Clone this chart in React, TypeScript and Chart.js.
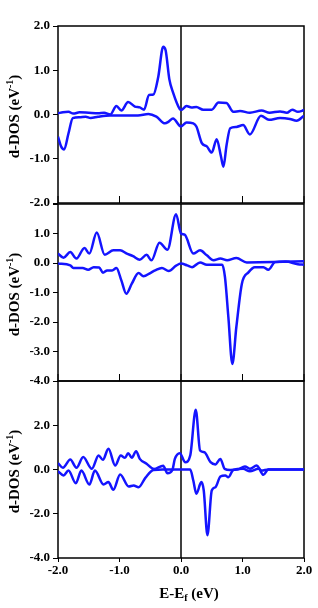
import React, { useEffect, useRef } from 'react';
import { Chart, registerables } from 'chart.js';
Chart.register(...registerables);

const xTickValues = [-2, -1, 0, 1, 2];

// Panel 1
const p1UpE = [-2.0, -1.92, -1.83, -1.75, -1.65, -1.5, -1.35, -1.25, -1.15, -1.05, -0.97, -0.86, -0.75, -0.67, -0.6, -0.52, -0.45, -0.37, -0.29, -0.25, -0.19, -0.13, -0.02, 0.0, 0.09, 0.17, 0.25, 0.36, 0.5, 0.61, 0.74, 0.85, 0.96, 1.12, 1.31, 1.44, 1.61, 1.72, 1.81, 1.9, 2.0];
const p1UpV = [0.03, 0.05, 0.06, 0.02, 0.05, 0.04, 0.03, 0.04, 0.0, 0.19, 0.09, 0.28, 0.18, 0.16, 0.11, 0.44, 0.45, 0.85, 1.53, 1.45, 0.8, 0.5, 0.12, 0.1, 0.19, 0.16, 0.17, 0.11, 0.11, 0.27, 0.26, 0.06, 0.08, 0.04, 0.09, 0.04, 0.07, 0.04, 0.11, 0.06, 0.1];
const p1DnE = [-2.0, -1.95, -1.9, -1.83, -1.76, -1.65, -1.55, -1.47, -1.35, -1.15, -0.9, -0.7, -0.53, -0.4, -0.26, -0.2, -0.13, 0.0, 0.09, 0.2, 0.25, 0.34, 0.42, 0.5, 0.58, 0.65, 0.69, 0.74, 0.8, 0.9, 1.01, 1.12, 1.3, 1.43, 1.61, 1.77, 1.88, 2.0];
const p1DnV = [-0.5, -0.72, -0.79, -0.43, -0.08, -0.06, -0.05, -0.08, -0.05, -0.02, -0.02, -0.02, 0.01, -0.05, -0.2, -0.16, -0.09, -0.27, -0.18, -0.2, -0.27, -0.65, -0.72, -0.86, -0.56, -0.95, -1.18, -0.7, -0.31, -0.28, -0.24, -0.45, -0.03, -0.12, -0.08, -0.1, -0.14, -0.03];

// Panel 2
const p2UpE = [-2.0, -1.91, -1.8, -1.7, -1.57, -1.49, -1.37, -1.24, -1.1, -0.99, -0.88, -0.78, -0.67, -0.56, -0.48, -0.35, -0.22, -0.08, 0.0, 0.06, 0.2, 0.31, 0.42, 0.53, 0.64, 0.75, 0.9, 1.07, 1.5, 2.0];
const p2UpV = [0.32, 0.18, 0.37, 0.15, 0.51, 0.32, 1.03, 0.28, 0.43, 0.43, 0.32, 0.23, 0.11, 0.28, 0.09, 0.69, 0.45, 1.65, 1.0, 0.96, 0.32, 0.43, 0.26, 0.09, 0.15, 0.09, 0.17, 0.02, 0.03, 0.06];
const p2DnE = [-2.0, -1.8, -1.75, -1.6, -1.51, -1.42, -1.33, -1.27, -1.2, -1.12, -1.05, -0.97, -0.89, -0.8, -0.69, -0.61, -0.5, -0.42, -0.31, -0.2, -0.08, 0.0, 0.1, 0.18, 0.31, 0.42, 0.67, 0.715, 0.77, 0.835, 0.9, 0.99, 1.1, 1.2, 1.34, 1.42, 1.53, 1.7, 1.9, 2.0];
const p2DnV = [-0.02, -0.08, -0.17, -0.17, -0.23, -0.14, -0.15, -0.33, -0.25, -0.25, -0.17, -0.59, -1.04, -0.7, -0.34, -0.45, -0.34, -0.25, -0.17, -0.27, -0.09, -0.02, -0.08, -0.14, 0.02, -0.06, -0.06, -0.48, -1.83, -3.42, -2.17, -0.7, -0.31, -0.14, -0.14, -0.23, 0.03, 0.05, -0.04, -0.06];

// Panel 3
const p3UpE = [-2.0, -1.92, -1.8, -1.7, -1.59, -1.45, -1.34, -1.27, -1.18, -1.07, -0.98, -0.91, -0.86, -0.8, -0.73, -0.67, -0.56, -0.44, -0.29, -0.22, -0.14, -0.1, -0.02, 0.07, 0.15, 0.24, 0.31, 0.38, 0.48, 0.56, 0.64, 0.71, 0.8, 0.92, 1.04, 1.12, 1.23, 1.31, 1.42, 2.0];
const p3UpV = [0.29, 0.08, 0.45, 0.08, 0.56, 0.03, 0.63, 0.44, 0.94, 0.18, 0.63, 0.53, 0.74, 0.53, 0.83, 0.48, 0.26, 0.02, 0.17, -0.17, -0.02, 0.48, 0.74, 0.33, 0.63, 2.7, 0.86, 0.78, 0.33, 0.23, 0.48, 0.03, -0.02, 0.0, 0.14, 0.03, 0.18, -0.05, 0.0, 0.0];
const p3DnE = [-2.0, -1.91, -1.83, -1.71, -1.62, -1.49, -1.4, -1.26, -1.18, -1.1, -0.99, -0.85, -0.77, -0.69, -0.58, -0.45, -0.3, 0.0, 0.15, 0.2, 0.25, 0.33, 0.37, 0.43, 0.5, 0.56, 0.64, 0.72, 0.77, 0.85, 1.01, 1.12, 1.26, 1.34, 1.42, 2.0];
const p3DnV = [-0.08, -0.27, -0.05, -0.62, -0.05, -0.68, -0.05, -0.68, -0.57, -0.92, -0.23, -0.77, -0.72, -0.8, -0.38, -0.02, 0.0, 0.0, 0.0, -0.5, -1.1, -0.57, -0.95, -2.97, -0.95, -0.8, -0.32, -0.27, -0.35, -0.02, 0.03, -0.08, 0.03, -0.24, 0.0, 0.0];

const FONT = '"Liberation Serif", "Times New Roman", serif';
const BLUE = '#1414ff';

type PanelProps = {
  upE: number[]; upV: number[]; dnE: number[]; dnV: number[];
  yMin: number; yMax: number; yStep: number; hideTop: boolean;
  top: number; height: number; padTop: number; padBottom: number;
  bottom: boolean;
};

function drawParts(ctx: CanvasRenderingContext2D, parts: [string, number, number][], cx: number) {
  let total = 0;
  for (const [t, size] of parts) {
    ctx.font = `bold ${size}px ${FONT}`;
    total += ctx.measureText(t).width;
  }
  let x = cx - total / 2;
  for (const [t, size, dy] of parts) {
    ctx.font = `bold ${size}px ${FONT}`;
    ctx.fillText(t, x, dy);
    x += ctx.measureText(t).width;
  }
}

function Panel(p: PanelProps) {
  const ref = useRef<HTMLCanvasElement>(null);
  useEffect(() => {
    const canvas = ref.current!;
    const framePlugin = {
      id: 'frame',
      beforeDatasetsDraw(chart: any) {
        const { ctx, chartArea: a, scales } = chart;
        const xs = scales.x;
        ctx.save();
        ctx.strokeStyle = '#000';
        ctx.lineWidth = 1.5;
        ctx.strokeRect(a.left, a.top, a.right - a.left, a.bottom - a.top);
        const x0 = xs.getPixelForValue(0);
        ctx.beginPath();
        ctx.moveTo(x0, a.top);
        ctx.lineTo(x0, a.bottom);
        ctx.stroke();
        if (!p.bottom) {
          ctx.lineWidth = 1;
          ctx.beginPath();
          for (const v of xTickValues) {
            const px = xs.getPixelForValue(v);
            ctx.moveTo(px, a.bottom);
            ctx.lineTo(px, a.bottom - 7);
          }
          ctx.stroke();
        }
        ctx.restore();
      },
      afterDraw(chart: any) {
        const { ctx, chartArea: a } = chart;
        ctx.save();
        ctx.fillStyle = '#000';
        ctx.textBaseline = 'middle';
        ctx.translate(15, (a.top + a.bottom) / 2 + 2);
        ctx.rotate(-Math.PI / 2);
        drawParts(ctx, [['d-DOS (eV', 15, 0], ['-1', 10, -5], [')', 15, 0]], 0);
        ctx.restore();
        if (p.bottom) {
          ctx.save();
          ctx.fillStyle = '#000';
          ctx.textBaseline = 'middle';
          ctx.translate(0, a.bottom + 36);
          drawParts(ctx, [['E-E', 15, 0], ['f', 10, 4], [' (eV)', 15, 0]], (a.left + a.right) / 2 + 8);
          ctx.restore();
        }
      },
    };
    const chart = new Chart(canvas, {
      type: 'line',
      data: {
        datasets: [
          { data: p.upE.map((e, i) => ({ x: e, y: p.upV[i] })), borderColor: BLUE, borderWidth: 2.5, pointRadius: 0, cubicInterpolationMode: 'monotone', fill: false },
          { data: p.dnE.map((e, i) => ({ x: e, y: p.dnV[i] })), borderColor: BLUE, borderWidth: 2.5, pointRadius: 0, cubicInterpolationMode: 'monotone', fill: false },
        ],
      },
      options: {
        responsive: false,
        animation: false,
        events: [],
        layout: { padding: { top: p.padTop, bottom: p.padBottom, left: 0, right: 14 } },
        plugins: { legend: { display: false }, tooltip: { enabled: false } },
        scales: {
          x: {
            type: 'linear',
            min: -2,
            max: 2,
            display: p.bottom,
            grid: { drawOnChartArea: false, drawTicks: true, tickLength: 4, color: '#000', lineWidth: 1 },
            border: { display: false },
            ticks: {
              stepSize: 1,
              padding: 1,
              color: '#000',
              font: { family: FONT, size: 13, weight: 'bold' },
              callback: (v: any) => Number(v).toFixed(1),
              maxRotation: 0,
            },
            afterFit: (s: any) => { s.height = p.bottom ? 50 : 0; },
          },
          y: {
            type: 'linear',
            min: p.yMin,
            max: p.yMax,
            grid: { drawOnChartArea: false, drawTicks: true, tickLength: 5, color: '#000', lineWidth: 1 },
            border: { display: false },
            ticks: {
              stepSize: p.yStep,
              padding: 3,
              color: '#000',
              font: { family: FONT, size: 13, weight: 'bold' },
              callback: (v: any) => (p.hideTop && Number(v) === p.yMax ? '' : Number(v).toFixed(1)),
            },
            afterFit: (s: any) => { s.width = 58; },
          },
        },
      } as any,
      plugins: [framePlugin],
    });
    return () => chart.destroy();
  }, []);
  return (
    <canvas
      ref={ref}
      width={318}
      height={p.height}
      style={{ position: 'absolute', left: 0, top: p.top, width: 318, height: p.height }}
    />
  );
}

export default function App() {
  return (
    <div style={{ position: 'absolute', left: 0, top: 0, width: 318, height: 608, background: '#fff', overflow: 'hidden' }}>
      <Panel upE={p1UpE} upV={p1UpV} dnE={p1DnE} dnV={p1DnV} yMin={-2} yMax={2} yStep={1} hideTop={false}
        top={0} height={215} padTop={26} padBottom={12} bottom={false} />
      <Panel upE={p2UpE} upV={p2UpV} dnE={p2DnE} dnV={p2DnV} yMin={-4} yMax={2} yStep={1} hideTop={true}
        top={192} height={200} padTop={12} padBottom={11} bottom={false} />
      <Panel upE={p3UpE} upV={p3UpV} dnE={p3DnE} dnV={p3DnV} yMin={-4} yMax={4} yStep={2} hideTop={true}
        top={369} height={239} padTop={12} padBottom={0} bottom={true} />
    </div>
  );
}
